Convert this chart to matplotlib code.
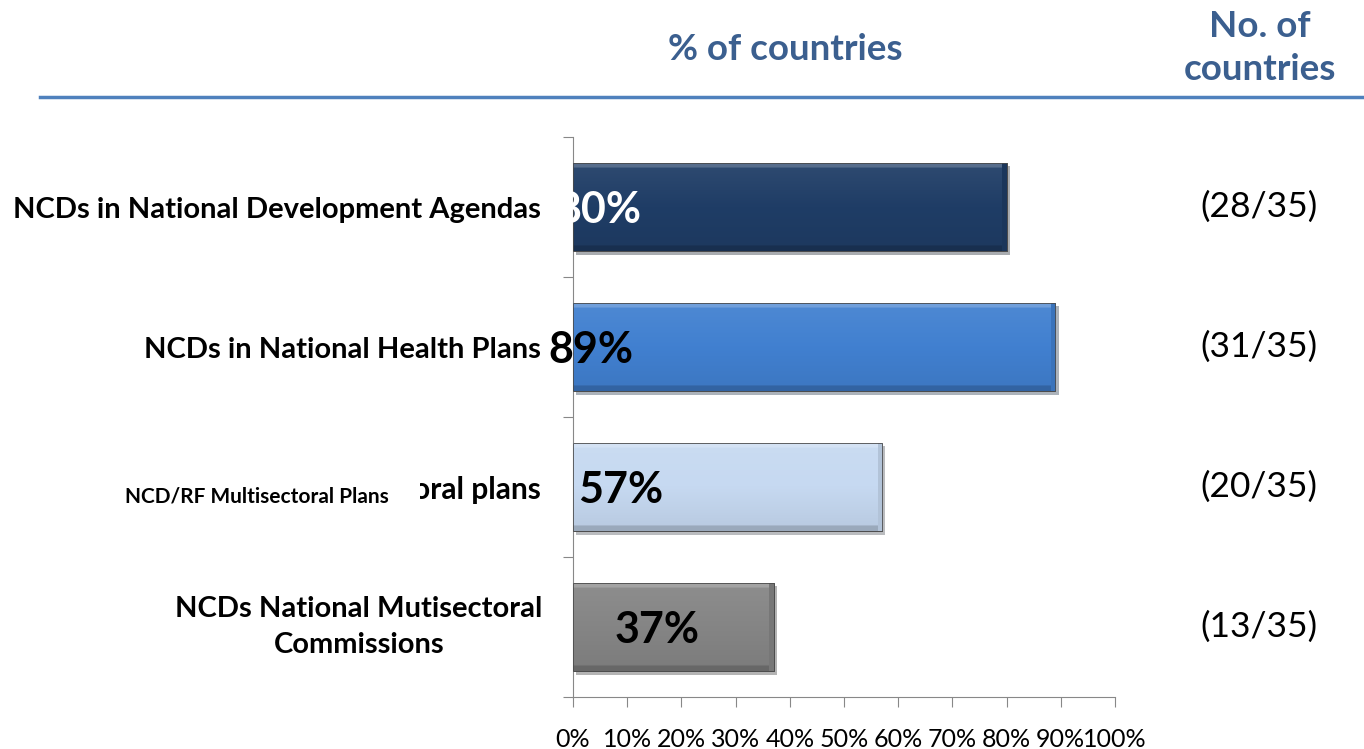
import matplotlib
matplotlib.use('Agg')
import matplotlib.pyplot as plt
import matplotlib.patheffects as pe
import matplotlib.transforms as mtransforms
from matplotlib.patches import Rectangle
from matplotlib.lines import Line2D
import numpy as np
from matplotlib.colors import to_rgb

plt.rcParams['font.family'] = ['Lato', 'DejaVu Sans']

# data
categories = ['NCDs in National Development Agendas',
              'NCDs in National Health Plans',
              'NCD/RF Multisectoral Plans',
              'NCDs National Mutisectoral\nCommissions']
percent = [80, 89, 57, 37]
counts = ['(28/35)', '(31/35)', '(20/35)', '(13/35)']
leftover = 'oral plans'   # tail of an older label still visible behind the new one
xticks = list(range(0, 101, 10))

# styles
bar_colors = ['#1F3D66', '#4180D0', '#C6D9F1', '#858585']
value_colors = ['white', 'black', 'black', 'black']
value_x = [-3.0, -4.6, 0.9, 7.7]
title_color = '#3B5F8F'

W, H = 1364, 749
fig = plt.figure(figsize=(W / 100, H / 100), dpi=100)
ax = fig.add_axes([573 / W, 1 - 697 / H, (1115 - 573) / W, (697 - 137) / H])

ypos = np.arange(len(categories))
bars = ax.barh(ypos, percent, height=0.63, color=bar_colors,
               edgecolor='#555555', linewidth=0.6, zorder=2)


def shade(c, k):
    # k > 0 lightens toward white, k < 0 darkens
    c = np.array(c)
    return c + (1 - c) * k if k > 0 else c * (1 + k)


# bevel-ish gradient + shadow for each bar
for b, c in zip(bars, bar_colors):
    b.set_path_effects([pe.SimplePatchShadow(offset=(2.5, -2.5), alpha=0.35), pe.Normal()])
    base = to_rgb(c)
    n = 80
    ks = np.linspace(0.07, -0.07, n)
    ks[:5] = 0.25
    ks[-5:] = -0.22
    grad = np.array([shade(base, k) for k in ks])[:, None, :]
    grad = np.repeat(grad, 2, axis=1)
    x0, y0 = b.get_x(), b.get_y()
    im = ax.imshow(grad, extent=[x0, x0 + b.get_width(), y0 + b.get_height(), y0],
                   aspect='auto', zorder=3, interpolation='bilinear')
    im.set_clip_path(b)
    side = np.repeat(np.array([shade(base, -0.1)])[None, :, :], 2, axis=0)
    im2 = ax.imshow(side, extent=[x0 + b.get_width() - 0.8, x0 + b.get_width(),
                                  y0 + b.get_height(), y0],
                    aspect='auto', zorder=3.5)
    im2.set_clip_path(b)
    edge = Rectangle((x0, y0), b.get_width(), b.get_height(), fill=False,
                     edgecolor='#4a4a4a', linewidth=0.6, zorder=4)
    ax.add_patch(edge)

for y, v, col, vx in zip(ypos, percent, value_colors, value_x):
    ax.text(vx, y + 0.02, f'{v}%', color=col, fontsize=31, fontweight='bold',
            ha='left', va='center', zorder=5, clip_on=False)

ax.set_xlim(0, 100)
ax.set_ylim(3.5, -0.5)
ax.set_xticks(xticks)
ax.set_xticklabels([f'{x}%' for x in xticks], fontsize=18)
ax.set_yticks(np.arange(-0.5, 4, 1))
ax.set_yticklabels([])
ax.tick_params(axis='x', direction='out', length=7, color='#888888', pad=15)
ax.tick_params(axis='y', direction='out', length=7, color='#888888')
for s in ['top', 'right']:
    ax.spines[s].set_visible(False)
for s in ['left', 'bottom']:
    ax.spines[s].set_color('#888888')
ax.set_facecolor('none')

# category labels
trans = mtransforms.blended_transform_factory(fig.transFigure, ax.transData)
for i, lab in enumerate(categories):
    if i == 2:
        fig.text(125 / W, i + 0.07, lab, transform=trans, fontsize=15, fontweight='bold',
                 ha='left', va='center')
    elif '\n' in lab:
        fig.text(359 / W, i, lab, transform=trans, fontsize=21, fontweight='bold',
                 ha='center', va='center', linespacing=1.45)
    else:
        fig.text(541 / W, i + 0.02, lab, transform=trans, fontsize=21, fontweight='bold',
                 ha='right', va='center')

# cut-off remnant of the old third label
rem = fig.text(541 / W, 2.02, leftover, transform=trans, fontsize=21.5, fontweight='bold',
               ha='right', va='center')
rem.set_clip_box(mtransforms.Bbox.from_extents(420, 0, W, H))

# counts column
for i, c in enumerate(counts):
    fig.text(1259 / W, i, c, transform=trans, fontsize=25.5, ha='center', va='center')

# header
fig.text(785 / W, 1 - 49 / H, '% of countries', fontsize=26.5, fontweight='bold',
         color=title_color, ha='center', va='center')
fig.text(1260 / W, 1 - 48 / H, 'No. of\ncountries', fontsize=26.5, fontweight='bold',
         color=title_color, ha='center', va='center', linespacing=1.4)
fig.lines.append(Line2D([40 / W, 1], [1 - 97 / H, 1 - 97 / H], transform=fig.transFigure,
                        color='#4F81BD', linewidth=2.5))

fig.savefig('out.png', dpi=100)
